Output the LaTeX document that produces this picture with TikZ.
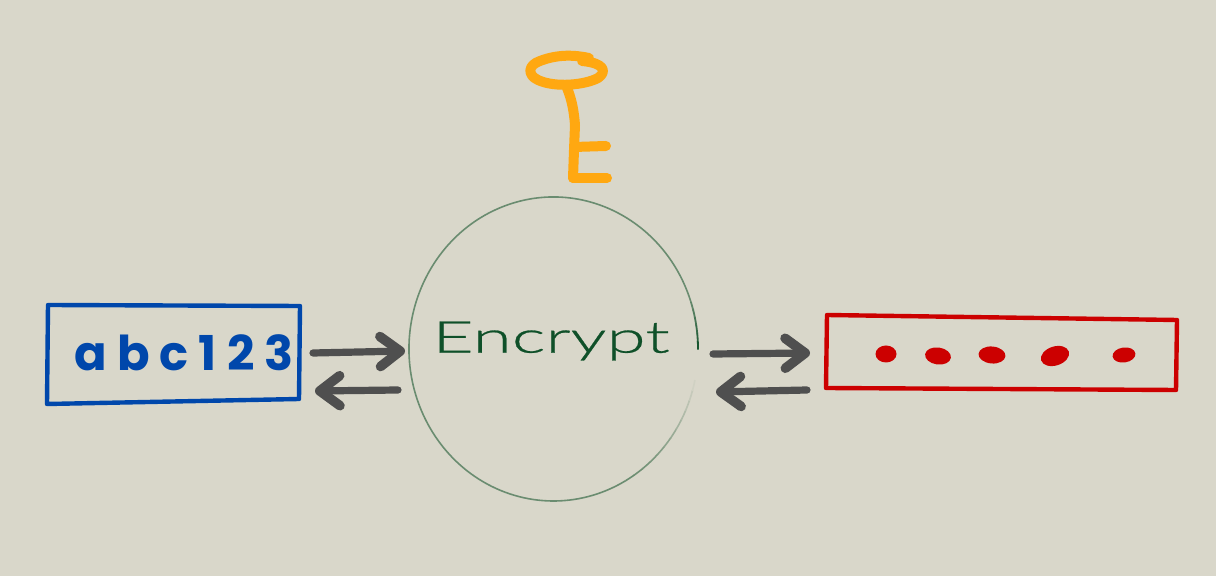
\documentclass[tikz,border=0pt]{standalone}
\usepackage{fontspec}
\setmainfont{Lato}
\newfontfamily\encfont[FakeStretch=1.62,FakeBold=0.6]{Lato Light}
\newfontfamily\abcfont[LetterSpace=21]{Poppins}
\usetikzlibrary{arrows.meta,shapes.geometric,calc}
\definecolor{bgc}{HTML}{D9D7CA}
\definecolor{blu}{HTML}{0047AB}
\definecolor{redc}{HTML}{CC0000}
\definecolor{orng}{HTML}{FFA811}
\definecolor{gry}{HTML}{4F4F4F}
\definecolor{grn}{HTML}{0F5029}
\definecolor{ringc}{HTML}{6A8C70}
\tikzset{
  boxline/.style={line width=2.2pt,line cap=round,line join=round},
  keyline/.style={draw=orng,line width=5pt,line cap=round,line join=round},
  flow/.style={draw=gry,line width=3.6pt,line cap=round,
    -{Straight Barb[length=10pt,width=15pt,round,line width=4.8pt]}},
  dotn/.style={ellipse,fill=redc,inner sep=0pt,outer sep=0pt},
  ring/.style={draw=ringc,line width=0.8pt},
}
\begin{document}
\begin{tikzpicture}[x=0.5pt,y=-0.5pt]
\useasboundingbox[fill=bgc] (0,0) rectangle (1216,576);
% ring
\coordinate (ringc) at (553.5,349);
\draw[ring] ($(ringc)+({144.5*cos(-18)},{152*sin(-18)})$) arc[start angle=-18,end angle=-300,x radius=144.5,y radius=152];
\foreach \a/\m in {-300/100,-304/95,-308/90,-312/84,-316/76,-320/68,-324/58,-328/48,-332/38,-336/28,-340/18,-344/8}{
  \draw[draw=ringc!\m!bgc,line width=0.8pt] ($(ringc)+({144.5*cos(\a)},{152*sin(\a)})$) arc[start angle=\a,delta angle=-4.2,x radius=144.5,y radius=152];
}
\foreach \a/\m in {-18/10,-15/25,-12/40,-9/55,-6/70,-3/90}{
  \draw[draw=grn!\m!ringc,line width=0.9pt] ($(ringc)+({144.5*cos(\a)},{152*sin(\a)})$) arc[start angle=\a,delta angle=3.2,x radius=144.5,y radius=152];
}
% boxes
\draw[boxline,draw=blu] (48,305) -- (300,306) -- (299,399) -- (47,404) -- cycle;
\node[inner sep=0pt,font=\abcfont\bfseries\fontsize{24}{26}\selectfont,text=blu] (abc) at (184,353) {abc123};
\node[inner sep=0pt,font=\encfont\fontsize{22}{26}\selectfont,text=grn] (enc) at (551,341) {Encrypt};
\draw[boxline,draw=redc] (827,315) -- (1177,320) -- (1176,390) -- (826,388) -- cycle;
\node[dotn,minimum width=10.5pt,minimum height=8.5pt] (d1) at (886,354) {};
\node[dotn,minimum width=13pt,minimum height=8.5pt,rotate=-8] (d2) at (938,356) {};
\node[dotn,minimum width=13.5pt,minimum height=8.5pt,rotate=-5] (d3) at (992,355) {};
\node[dotn,minimum width=14.5pt,minimum height=9.5pt,rotate=18] (d4) at (1055,356) {};
\node[dotn,minimum width=11.5pt,minimum height=7.5pt,rotate=8] (d5) at (1124,355) {};
% key
\draw[keyline] (589,58) .. controls (575,55) and (558,54) .. (540,61) .. controls (528,65) and (527,75) .. (538,80) .. controls (555,88) and (585,85) .. (598,78) .. controls (607,72) and (605,63) .. (582,61);
\coordinate (stemtop) at (567,88);
\coordinate (stemmid) at (575,125);
\coordinate (stembot) at (573,178);
\draw[keyline] (stemtop) .. controls (572,100) and (574,112) .. (stemmid) -- (574,150) -- (stembot);
\coordinate (tooth1) at (606,146);
\coordinate (tooth2) at (607,178);
\draw[keyline] (574,147) -- (tooth1);
\draw[keyline] (stembot) -- (tooth2);
% arrows
\coordinate (a1) at (313,353); \coordinate (a2) at (405,351);
\coordinate (b1) at (398,390); \coordinate (b2) at (315,391);
\coordinate (c1) at (713,354); \coordinate (c2) at (810,353);
\coordinate (e1) at (807,390); \coordinate (e2) at (716,392);
\draw[flow] (a1) -- (a2);
\draw[flow] (b1) -- (b2);
\draw[flow] (c1) -- (c2);
\draw[flow] (e1) -- (e2);
\end{tikzpicture}
\end{document}
